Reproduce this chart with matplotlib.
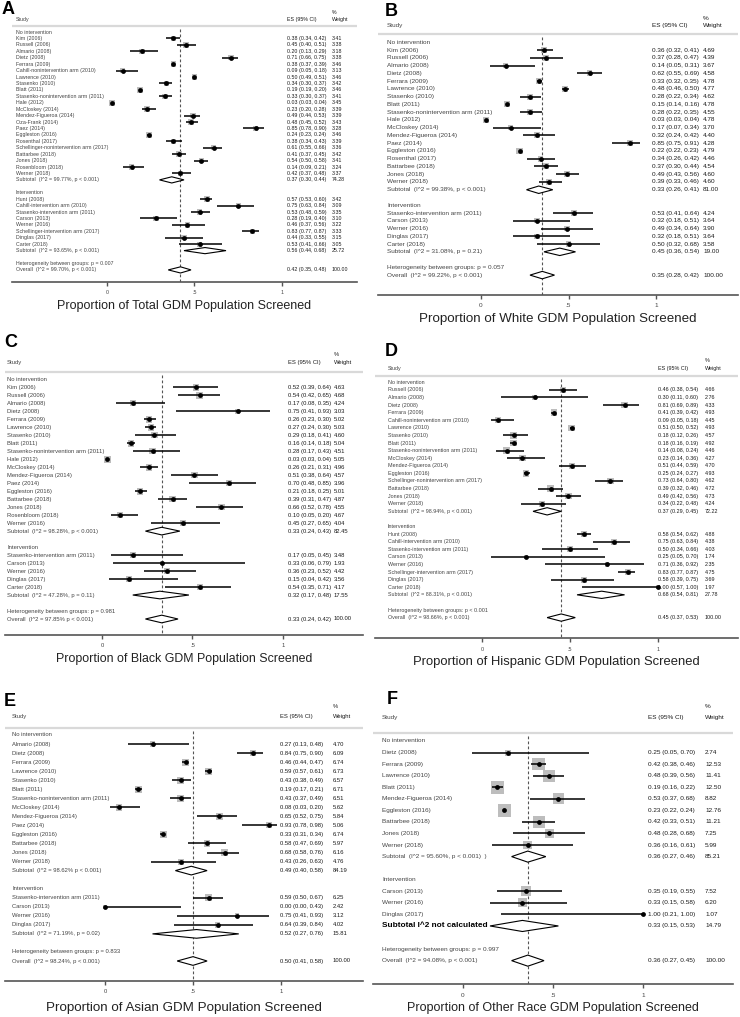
import numpy as np
import matplotlib.pyplot as plt
from matplotlib.patches import Polygon

plt.rcParams['font.family'] = ['Liberation Sans', 'DejaVu Sans']

# ---- panel A : total ----
A_STUDY = ["Kim (2006)", "Russell (2006)", "Almario (2008)", "Dietz (2008)", "Ferrara (2009)",
           "Cahill-nonintervention arm (2010)", "Lawrence (2010)", "Stasenko (2010)", "Blatt (2011)",
           "Stasenko-nonintervention arm (2011)", "Hale (2012)", "McCloskey (2014)",
           "Mendez-Figueroa (2014)", "Oza-Frank (2014)", "Paez (2014)", "Eggleston (2016)",
           "Rosenthal (2017)", "Schellinger-nonintervention arm (2017)", "Battarbee (2018)",
           "Jones (2018)", "Rosenbloom (2018)", "Werner (2018)",
           "Hunt (2008)", "Cahill-intervention arm (2010)", "Stasenko-intervention arm (2011)",
           "Carson (2013)", "Werner (2016)", "Schellinger-intervention arm (2017)", "Dinglas (2017)",
           "Carter (2018)"]
A_ES = [0.38, 0.45, 0.20, 0.71, 0.38, 0.09, 0.50, 0.34, 0.19, 0.33, 0.03, 0.23, 0.49, 0.48, 0.85,
        0.24, 0.38, 0.61, 0.41, 0.54, 0.14, 0.42,
        0.57, 0.75, 0.53, 0.28, 0.46, 0.83, 0.44, 0.53]
A_LO = [0.34, 0.40, 0.13, 0.66, 0.37, 0.05, 0.49, 0.30, 0.19, 0.30, 0.03, 0.20, 0.44, 0.45, 0.78,
        0.23, 0.34, 0.55, 0.37, 0.50, 0.09, 0.37,
        0.53, 0.63, 0.48, 0.19, 0.37, 0.77, 0.33, 0.41]
A_HI = [0.42, 0.51, 0.29, 0.75, 0.39, 0.18, 0.51, 0.37, 0.20, 0.37, 0.04, 0.28, 0.53, 0.52, 0.90,
        0.24, 0.43, 0.66, 0.45, 0.58, 0.21, 0.48,
        0.60, 0.84, 0.59, 0.40, 0.56, 0.87, 0.55, 0.66]
A_WT = [3.41, 3.38, 3.18, 3.38, 3.46, 3.13, 3.46, 3.42, 3.46, 3.41, 3.45, 3.39, 3.39, 3.43, 3.28,
        3.46, 3.39, 3.36, 3.42, 3.41, 3.24, 3.37,
        3.42, 3.09, 3.35, 3.10, 3.22, 3.33, 3.15, 3.05]
A_N_NOINT = 22
A_POOL_LABEL = ["Subtotal  (I^2 = 99.77%, p < 0.001)", "Subtotal  (I^2 = 93.65%, p < 0.001)",
                "Overall  (I^2 = 99.70%, p < 0.001)"]
A_POOL_ES = [0.37, 0.56, 0.42]
A_POOL_LO = [0.30, 0.44, 0.35]
A_POOL_HI = [0.44, 0.68, 0.48]
A_POOL_WT = [74.28, 25.72, 100.00]
A_HET = "Heterogeneity between groups: p = 0.007"
A_TITLE = "Proportion of Total GDM Population Screened"

# ---- panel B : white ----
B_STUDY = ["Kim (2006)", "Russell (2006)", "Almario (2008)", "Dietz (2008)", "Ferrara (2009)",
           "Lawrence (2010)", "Stasenko (2010)", "Blatt (2011)", "Stasenko-nonintervention arm (2011)",
           "Hale (2012)", "McCloskey (2014)", "Mendez-Figueroa (2014)", "Paez (2014)",
           "Eggleston (2016)", "Rosenthal (2017)", "Battarbee (2018)", "Jones (2018)", "Werner (2018)",
           "Stasenko-intervention arm (2011)", "Carson (2013)", "Werner (2016)", "Dinglas (2017)",
           "Carter (2018)"]
B_ES = [0.36, 0.37, 0.14, 0.62, 0.33, 0.48, 0.28, 0.15, 0.28, 0.03, 0.17, 0.32, 0.85, 0.22, 0.34,
        0.37, 0.49, 0.39,
        0.53, 0.32, 0.49, 0.32, 0.50]
B_LO = [0.32, 0.28, 0.05, 0.55, 0.32, 0.46, 0.22, 0.14, 0.22, 0.03, 0.07, 0.24, 0.75, 0.22, 0.26,
        0.30, 0.43, 0.33,
        0.41, 0.18, 0.34, 0.18, 0.32]
B_HI = [0.41, 0.47, 0.31, 0.69, 0.35, 0.50, 0.34, 0.16, 0.35, 0.04, 0.34, 0.42, 0.91, 0.23, 0.42,
        0.44, 0.56, 0.46,
        0.64, 0.51, 0.64, 0.51, 0.68]
B_WT = [4.69, 4.39, 3.67, 4.58, 4.78, 4.77, 4.62, 4.78, 4.55, 4.78, 3.70, 4.40, 4.28, 4.79, 4.46,
        4.54, 4.60, 4.60,
        4.24, 3.64, 3.90, 3.64, 3.58]
B_N_NOINT = 18
B_POOL_LABEL = ["Subtotal  (I^2 = 99.38%, p < 0.001)", "Subtotal  (I^2 = 31.08%, p = 0.21)",
                "Overall  (I^2 = 99.22%, p < 0.001)"]
B_POOL_ES = [0.33, 0.45, 0.35]
B_POOL_LO = [0.26, 0.36, 0.28]
B_POOL_HI = [0.41, 0.54, 0.42]
B_POOL_WT = [81.00, 19.00, 100.00]
B_HET = "Heterogeneity between groups: p = 0.057"
B_TITLE = "Proportion of White GDM Population Screened"

# ---- panel C : black ----
C_STUDY = ["Kim (2006)", "Russell (2006)", "Almario (2008)", "Dietz (2008)", "Ferrara (2009)",
           "Lawrence (2010)", "Stasenko (2010)", "Blatt (2011)", "Stasenko-nonintervention arm (2011)",
           "Hale (2012)", "McCloskey (2014)", "Mendez-Figueroa (2014)", "Paez (2014)",
           "Eggleston (2016)", "Battarbee (2018)", "Jones (2018)", "Rosenbloom (2018)", "Werner (2016)",
           "Stasenko-intervention arm (2011)", "Carson (2013)", "Werner (2016)", "Dinglas (2017)",
           "Carter (2018)"]
C_ES = [0.52, 0.54, 0.17, 0.75, 0.26, 0.27, 0.29, 0.16, 0.28, 0.03, 0.26, 0.51, 0.70, 0.21, 0.39,
        0.66, 0.10, 0.45,
        0.17, 0.33, 0.36, 0.15, 0.54]
C_LO = [0.39, 0.42, 0.08, 0.41, 0.23, 0.24, 0.18, 0.14, 0.17, 0.03, 0.21, 0.38, 0.48, 0.18, 0.31,
        0.52, 0.05, 0.27,
        0.05, 0.06, 0.23, 0.04, 0.35]
C_HI = [0.64, 0.65, 0.35, 0.93, 0.30, 0.30, 0.41, 0.18, 0.43, 0.04, 0.31, 0.64, 0.85, 0.25, 0.47,
        0.78, 0.20, 0.65,
        0.45, 0.79, 0.52, 0.42, 0.71]
C_WT = [4.63, 4.68, 4.24, 3.03, 5.02, 5.03, 4.60, 5.04, 4.51, 5.05, 4.96, 4.57, 3.96, 5.01, 4.87,
        4.55, 4.67, 4.04,
        3.48, 1.93, 4.42, 3.56, 4.17]
C_N_NOINT = 18
C_POOL_LABEL = ["Subtotal  (I^2 = 98.28%, p < 0.001)", "Subtotal  (I^2 = 47.28%, p = 0.11)",
                "Overall  (I^2 = 97.85% p < 0.001)"]
C_POOL_ES = [0.33, 0.32, 0.33]
C_POOL_LO = [0.24, 0.17, 0.24]
C_POOL_HI = [0.43, 0.48, 0.42]
C_POOL_WT = [82.45, 17.55, 100.00]
C_HET = "Heterogeneity between groups: p = 0.981"
C_TITLE = "Proportion of Black GDM Population Screened"

# ---- panel D : hispanic ----
D_STUDY = ["Russell (2006)", "Almario (2008)", "Dietz (2008)", "Ferrara (2009)",
           "Cahill-nonintervention arm (2010)", "Lawrence (2010)", "Stasenko (2010)", "Blatt (2011)",
           "Stasenko-nonintervention arm (2011)", "McCloskey (2014)", "Mendez-Figueroa (2014)",
           "Eggleston (2016)", "Schellinger-nonintervention arm (2017)", "Battarbee (2018)",
           "Jones (2018)", "Werner (2018)",
           "Hunt (2008)", "Cahill-intervention arm (2010)", "Stasenko-intervention arm (2011)",
           "Carson (2013)", "Werner (2016)", "Schellinger-intervention arm (2017)", "Dinglas (2017)",
           "Carter (2018)"]
D_ES = [0.46, 0.30, 0.81, 0.41, 0.09, 0.51, 0.18, 0.18, 0.14, 0.23, 0.51, 0.25, 0.73, 0.39, 0.49,
        0.34,
        0.58, 0.75, 0.50, 0.25, 0.71, 0.83, 0.58, 1.00]
D_LO = [0.38, 0.11, 0.69, 0.39, 0.05, 0.50, 0.12, 0.16, 0.08, 0.14, 0.44, 0.24, 0.64, 0.32, 0.42,
        0.22,
        0.54, 0.63, 0.34, 0.05, 0.36, 0.77, 0.39, 0.57]
D_HI = [0.54, 0.60, 0.89, 0.42, 0.18, 0.52, 0.26, 0.19, 0.24, 0.36, 0.59, 0.27, 0.80, 0.46, 0.56,
        0.48,
        0.62, 0.84, 0.66, 0.70, 0.92, 0.87, 0.75, 1.00]
D_WT = [4.66, 2.76, 4.33, 4.93, 4.45, 4.93, 4.57, 4.92, 4.46, 4.27, 4.70, 4.93, 4.62, 4.72, 4.73,
        4.24,
        4.88, 4.38, 4.03, 1.74, 2.35, 4.75, 3.69, 1.97]
D_N_NOINT = 16
D_POOL_LABEL = ["Subtotal  (I^2 = 98.94%, p < 0.001)", "Subtotal  (I^2 = 88.31%, p < 0.001)",
                "Overall  (I^2 = 98.66%, p < 0.001)"]
D_POOL_ES = [0.37, 0.68, 0.45]
D_POOL_LO = [0.29, 0.54, 0.37]
D_POOL_HI = [0.45, 0.81, 0.53]
D_POOL_WT = [72.22, 27.78, 100.00]
D_HET = "Heterogeneity between groups: p < 0.001"
D_TITLE = "Proportion of Hispanic GDM Population Screened"

# ---- panel E : asian ----
E_STUDY = ["Almario (2008)", "Dietz (2008)", "Ferrara (2009)", "Lawrence (2010)", "Stasenko (2010)",
           "Blatt (2011)", "Stasenko-nonintervention arm (2011)", "McCloskey (2014)",
           "Mendez-Figueroa (2014)", "Paez (2014)", "Eggleston (2016)", "Battarbee (2018)",
           "Jones (2018)", "Werner (2018)",
           "Stasenko-intervention arm (2011)", "Carson (2013)", "Werner (2016)", "Dinglas (2017)"]
E_ES = [0.27, 0.84, 0.46, 0.59, 0.43, 0.19, 0.43, 0.08, 0.65, 0.93, 0.33, 0.58, 0.68, 0.43,
        0.59, 0.00, 0.75, 0.64]
E_LO = [0.13, 0.75, 0.44, 0.57, 0.38, 0.17, 0.37, 0.03, 0.52, 0.78, 0.31, 0.47, 0.58, 0.26,
        0.50, 0.00, 0.41, 0.39]
E_HI = [0.48, 0.90, 0.47, 0.61, 0.49, 0.21, 0.49, 0.20, 0.75, 0.98, 0.34, 0.69, 0.76, 0.63,
        0.67, 0.43, 0.93, 0.84]
E_WT = [4.70, 6.09, 6.74, 6.73, 6.57, 6.71, 6.51, 5.62, 5.84, 5.06, 6.74, 5.97, 6.16, 4.76,
        6.25, 2.42, 3.12, 4.02]
E_N_NOINT = 14
E_POOL_LABEL = ["Subtotal  (I^2 = 98.62% p < 0.001)", "Subtotal  (I^2 = 71.19%, p = 0.02)",
                "Overall  (I^2 = 98.24%, p < 0.001)"]
E_POOL_ES = [0.49, 0.52, 0.50]
E_POOL_LO = [0.40, 0.27, 0.41]
E_POOL_HI = [0.58, 0.76, 0.58]
E_POOL_WT = [84.19, 15.81, 100.00]
E_HET = "Heterogeneity between groups: p = 0.833"
E_TITLE = "Proportion of Asian GDM Population Screened"

# ---- panel F : other race ----
F_STUDY = ["Dietz (2008)", "Ferrara (2009)", "Lawrence (2010)", "Blatt (2011)",
           "Mendez-Figueroa (2014)", "Eggleston (2016)", "Battarbee (2018)", "Jones (2018)",
           "Werner (2018)",
           "Carson (2013)", "Werner (2016)", "Dinglas (2017)"]
F_ES = [0.25, 0.42, 0.48, 0.19, 0.53, 0.23, 0.42, 0.48, 0.36, 0.35, 0.33, 1.00]
F_LO = [0.05, 0.38, 0.39, 0.16, 0.37, 0.22, 0.33, 0.28, 0.16, 0.19, 0.15, 0.21]
F_HI = [0.70, 0.46, 0.56, 0.22, 0.68, 0.24, 0.51, 0.68, 0.61, 0.55, 0.58, 1.00]
F_WT = [2.74, 12.53, 11.41, 12.50, 8.82, 12.76, 11.21, 7.25, 5.99, 7.52, 6.20, 1.07]
F_N_NOINT = 9
F_POOL_LABEL = ["Subtotal  (I^2 = 95.60%, p < 0.001)  )", "Subtotal I^2 not calculated",
                "Overall  (I^2 = 94.08%, p < 0.001)"]
F_POOL_ES = [0.36, 0.33, 0.36]
F_POOL_LO = [0.27, 0.15, 0.27]
F_POOL_HI = [0.46, 0.53, 0.45]
F_POOL_WT = [85.21, 14.79, 100.00]
F_HET = "Heterogeneity between groups: p = 0.997"
F_TITLE = "Proportion of Other Race GDM Population Screened"

W, H = 740, 1017
fig = plt.figure(figsize=(W / 100, H / 100), dpi=100)

# layout of each panel, in pixels of the final image
LAYOUT = {
    "A": dict(left=12, right=357, x0=107, s=175, y0=32, dy=6.43, top=8, bottom=282,
              head=19.5, pct=12.5, line=26, study_x=16, es_x=287, wt_x=332, title_y=305.7,
              fs=3.8, title_fs=9.0, letter=(2, 10), k=3.0),
    "B": dict(left=378, right=738, x0=481, s=175, y0=42.3, dy=7.76, top=10, bottom=295,
              head=25, pct=18, line=34, study_x=387, es_x=652, wt_x=703, title_y=319.3,
              fs=4.6, title_fs=9.6, letter=(385, 11), k=2.8),
    "C": dict(left=5, right=363, x0=102, s=181, y0=379.3, dy=7.99, top=345, bottom=635,
              head=362.7, pct=354, line=372.3, study_x=7, es_x=288, wt_x=334, title_y=659.3,
              fs=4.2, title_fs=8.9, letter=(4, 342), k=3.0),
    "D": dict(left=375, right=738, x0=482, s=176, y0=382.3, dy=7.59, top=350, bottom=638.3,
              head=368.3, pct=360, line=376, study_x=388, es_x=658, wt_x=705, title_y=661.7,
              fs=3.9, title_fs=9.4, letter=(385, 351), k=3.0),
    "E": dict(left=5, right=363, x0=105, s=176, y0=735, dy=9.04, top=700, bottom=980.7,
              head=716.7, pct=706.7, line=727.7, study_x=12, es_x=280, wt_x=333, title_y=1008.3,
              fs=4.2, title_fs=9.6, letter=(4, 701), k=2.7),
    "F": dict(left=373, right=733, x0=463, s=180, y0=741, dy=11.56, top=700, bottom=984.3,
              head=717.7, pct=706.7, line=732.7, study_x=382, es_x=648, wt_x=705, title_y=1008.3,
              fs=4.6, title_fs=9.0, letter=(387, 700), k=3.6),
}

TXT = "#444444"
NUM = "#1a1a1a"


def draw_panel(name, study, es, lo, hi, wt, n_noint, pool_label, pool_es, pool_lo, pool_hi,
               pool_wt, het, title, bold_pool=()):
    L = LAYOUT[name]
    ax = fig.add_axes([L["left"] / W, 1 - L["bottom"] / H,
                       (L["right"] - L["left"]) / W, (L["bottom"] - L["top"]) / H])
    px2x = lambda p: (p - L["x0"]) / L["s"]
    py2r = lambda p: (p - L["y0"]) / L["dy"]
    ax.set_xlim(px2x(L["left"]), px2x(L["right"]))
    ax.set_ylim(py2r(L["bottom"]), py2r(L["top"]))
    ax.patch.set_alpha(0)
    for sp in ["top", "left", "right"]:
        ax.spines[sp].set_visible(False)
    ax.spines["bottom"].set_color("#555555")
    ax.spines["bottom"].set_linewidth(1.2)
    ax.set_yticks([])
    ax.set_xticks([0, 0.5, 1])
    ax.set_xticklabels(["0", ".5", "1"])
    ax.tick_params(axis="x", length=3, width=1, color="#555555", labelsize=L["fs"],
                   labelcolor=TXT, pad=3)

    n2 = len(study) - n_noint
    rows = np.r_[np.arange(1, n_noint + 1), np.arange(n_noint + 4, n_noint + 4 + n2)]
    pool_rows = [n_noint + 1, n_noint + n2 + 4, n_noint + n2 + 7]
    fs = L["fs"]
    sx, ex, wx = px2x(L["study_x"]), px2x(L["es_x"]), px2x(L["wt_x"])

    # header
    ax.text(sx, py2r(L["head"]), "Study", fontsize=fs, color=TXT, va="center")
    ax.text(ex, py2r(L["head"]), "ES (95% CI)", fontsize=fs, color=NUM, va="center")
    ax.text(wx, py2r(L["pct"]), "%", fontsize=fs, color=NUM, va="center")
    ax.text(wx, py2r(L["head"]), "Weight", fontsize=fs, color=NUM, va="center")
    ax.axhline(py2r(L["line"]), color="#d9d9d9", lw=1.6)

    # reference line at overall estimate
    ov = pool_es[2]
    ax.plot([ov, ov], [py2r(L["line"] + 3), py2r(L["bottom"])], color="#555555", lw=0.8,
            ls=(0, (2.5, 2)), zorder=1)

    # studies
    es, lo, hi, wt = map(np.asarray, (es, lo, hi, wt))
    side_pt = L["k"] * np.sqrt(wt) * 0.72
    ax.scatter(es, rows, marker="s", s=side_pt ** 2, color="#bdbdbd", lw=0, zorder=2)
    ax.hlines(rows, lo, hi, color="black", lw=1.1, zorder=3)
    ax.scatter(es, rows, marker="o", s=12, color="black", lw=0, zorder=4)

    # pooled diamonds
    for r, e, l, h in zip(pool_rows, pool_es, pool_lo, pool_hi):
        ax.add_patch(Polygon([(l, r), (e, r - 0.48), (h, r), (e, r + 0.48)], closed=True,
                             facecolor="white", edgecolor="black", lw=0.8, zorder=3))

    # labels
    ax.text(sx, 0, "No intervention", fontsize=fs, color=TXT, va="center")
    ax.text(sx, n_noint + 3, "Intervention", fontsize=fs, color=TXT, va="center")
    ax.text(sx, n_noint + n2 + 6, het, fontsize=fs, color=TXT, va="center")
    for r, s_, e, l, h, w in zip(rows, study, es, lo, hi, wt):
        ax.text(sx, r, s_, fontsize=fs, color=TXT, va="center")
        ax.text(ex, r, f"{e:.2f} ({l:.2f}, {h:.2f})", fontsize=fs, color=NUM, va="center")
        ax.text(wx, r, f"{w:.2f}", fontsize=fs, color=NUM, va="center")
    for i, (r, lab, e, l, h, w) in enumerate(zip(pool_rows, pool_label, pool_es, pool_lo,
                                                 pool_hi, pool_wt)):
        if i in bold_pool:
            ax.text(sx, r, lab, fontsize=fs * 1.3, color="black", fontweight="bold", va="center")
        else:
            ax.text(sx, r, lab, fontsize=fs, color=TXT, va="center")
        ax.text(ex, r, f"{e:.2f} ({l:.2f}, {h:.2f})", fontsize=fs, color=NUM, va="center")
        ax.text(wx, r, f"{w:.2f}", fontsize=fs, color=NUM, va="center")

    # panel letter and title
    fig.text(L["letter"][0] / W, 1 - L["letter"][1] / H, name, fontsize=13, fontweight="bold",
             ha="left", va="center")
    fig.text((L["left"] + L["right"]) / 2 / W, 1 - L["title_y"] / H, title,
             fontsize=L["title_fs"], ha="center", va="center", color="#222222")
    return ax


draw_panel("A", A_STUDY, A_ES, A_LO, A_HI, A_WT, A_N_NOINT, A_POOL_LABEL, A_POOL_ES, A_POOL_LO,
           A_POOL_HI, A_POOL_WT, A_HET, A_TITLE)
draw_panel("B", B_STUDY, B_ES, B_LO, B_HI, B_WT, B_N_NOINT, B_POOL_LABEL, B_POOL_ES, B_POOL_LO,
           B_POOL_HI, B_POOL_WT, B_HET, B_TITLE)
draw_panel("C", C_STUDY, C_ES, C_LO, C_HI, C_WT, C_N_NOINT, C_POOL_LABEL, C_POOL_ES, C_POOL_LO,
           C_POOL_HI, C_POOL_WT, C_HET, C_TITLE)
draw_panel("D", D_STUDY, D_ES, D_LO, D_HI, D_WT, D_N_NOINT, D_POOL_LABEL, D_POOL_ES, D_POOL_LO,
           D_POOL_HI, D_POOL_WT, D_HET, D_TITLE)
draw_panel("E", E_STUDY, E_ES, E_LO, E_HI, E_WT, E_N_NOINT, E_POOL_LABEL, E_POOL_ES, E_POOL_LO,
           E_POOL_HI, E_POOL_WT, E_HET, E_TITLE)
draw_panel("F", F_STUDY, F_ES, F_LO, F_HI, F_WT, F_N_NOINT, F_POOL_LABEL, F_POOL_ES, F_POOL_LO,
           F_POOL_HI, F_POOL_WT, F_HET, F_TITLE, bold_pool=(1,))

fig.savefig("out.png", dpi=100)
